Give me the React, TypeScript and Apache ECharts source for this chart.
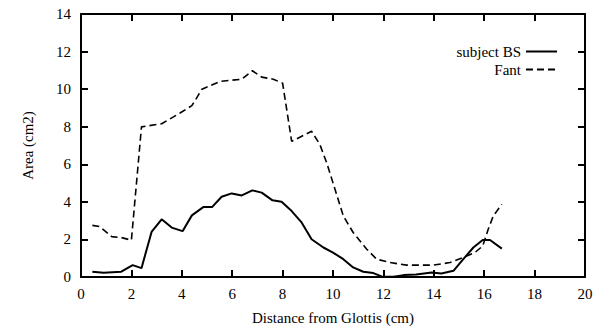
import React, { useEffect, useRef } from "react";
import * as echarts from "echarts";

const subjectX = [0.45, 0.9, 1.6, 2.05, 2.4, 2.8, 3.2, 3.6, 4.03, 4.4, 4.85, 5.2, 5.58, 5.98, 6.38, 6.8, 7.17, 7.6, 7.96, 8.36, 8.76, 9.15, 9.62, 10.0, 10.41, 10.8, 11.2, 11.6, 11.93, 12.4, 12.8, 13.3, 13.92, 14.3, 14.78, 15.17, 15.57, 15.94, 16.23, 16.7];
const subjectY = [0.28, 0.23, 0.28, 0.63, 0.47, 2.4, 3.07, 2.63, 2.44, 3.28, 3.72, 3.72, 4.27, 4.45, 4.34, 4.61, 4.49, 4.08, 4.01, 3.51, 2.89, 2.01, 1.57, 1.3, 0.95, 0.51, 0.28, 0.21, 0.03, 0.01, 0.1, 0.13, 0.24, 0.19, 0.33, 0.95, 1.57, 1.97, 1.97, 1.51];

const fantX = [0.45, 0.75, 1.22, 1.6, 2.0, 2.4, 3.2, 3.93, 4.4, 4.8, 5.52, 6.38, 6.8, 7.17, 7.63, 8.0, 8.36, 9.15, 9.48, 9.75, 10.0, 10.41, 10.8, 11.34, 11.73, 12.26, 12.92, 13.98, 14.64, 15.17, 15.63, 15.94, 16.16, 16.36, 16.7];
const fantY = [2.75, 2.68, 2.15, 2.1, 1.96, 7.99, 8.16, 8.73, 9.12, 10.0, 10.41, 10.53, 10.98, 10.64, 10.53, 10.32, 7.22, 7.76, 7.05, 6.08, 5.01, 3.25, 2.37, 1.48, 0.95, 0.77, 0.63, 0.63, 0.77, 1.04, 1.3, 1.65, 2.54, 3.25, 3.87];

const xTitle = "Distance from Glottis (cm)";
const yTitle = "Area (cm2)";
const seriesNames = ["subject BS", "Fant"];

const SERIF = "Liberation Serif";

function frameLine() {
  return { show: true, onZero: false, lineStyle: { color: "#000000", width: 2 } };
}
function frameTick() {
  return { show: true, inside: true, length: 7, lineStyle: { color: "#000000", width: 2 } };
}
function serifText(size: number) {
  return { color: "#000000", fontFamily: SERIF, fontSize: size };
}

export default function App() {
  const box = useRef<HTMLDivElement>(null);
  useEffect(() => {
    const inst = echarts.init(box.current!, undefined, { renderer: "svg" });
    inst.setOption({
      animation: false,
      backgroundColor: "#ffffff",
      grid: { left: 81, right: 20, top: 14, bottom: 52 },
      legend: [
        {
          data: [seriesNames[0]],
          right: 42,
          top: 39,
          align: "right",
          itemWidth: 31,
          itemHeight: 10,
          itemStyle: { opacity: 0 },
          textStyle: serifText(15),
        },
        {
          data: [seriesNames[1]],
          right: 42,
          top: 57,
          align: "right",
          itemWidth: 31,
          itemHeight: 10,
          itemStyle: { opacity: 0 },
          textStyle: serifText(15),
        },
      ],
      xAxis: [
        {
          type: "value",
          min: 0,
          max: 20,
          interval: 2,
          name: xTitle,
          nameLocation: "middle",
          nameGap: 33,
          nameTextStyle: serifText(15),
          axisLine: frameLine(),
          axisTick: frameTick(),
          axisLabel: { ...serifText(15), margin: 9 },
          splitLine: { show: false },
        },
        {
          type: "value",
          position: "top",
          min: 0,
          max: 20,
          interval: 2,
          axisLine: frameLine(),
          axisTick: frameTick(),
          axisLabel: { show: false },
          splitLine: { show: false },
        },
      ],
      yAxis: [
        {
          type: "value",
          min: 0,
          max: 14,
          interval: 2,
          name: yTitle,
          nameLocation: "middle",
          nameGap: 46,
          nameTextStyle: serifText(15),
          axisLine: frameLine(),
          axisTick: frameTick(),
          axisLabel: { ...serifText(15), margin: 10 },
          splitLine: { show: false },
        },
        {
          type: "value",
          position: "right",
          min: 0,
          max: 14,
          interval: 2,
          axisLine: frameLine(),
          axisTick: frameTick(),
          axisLabel: { show: false },
          splitLine: { show: false },
        },
      ],
      series: [
        {
          name: seriesNames[0],
          type: "line",
          symbol: "none",
          data: subjectX.map((x, i) => [x, subjectY[i]]),
          lineStyle: { color: "#000000", width: 2 },
          itemStyle: { color: "#000000" },
        },
        {
          name: seriesNames[1],
          type: "line",
          symbol: "none",
          data: fantX.map((x, i) => [x, fantY[i]]),
          lineStyle: { color: "#000000", width: 1.6, type: [7, 4] },
          itemStyle: { color: "#000000" },
        },
      ],
    });
    return () => inst.dispose();
  }, []);
  return <div ref={box} style={{ width: 605, height: 330, margin: "-8px 0 0 -8px" }} />;
}
